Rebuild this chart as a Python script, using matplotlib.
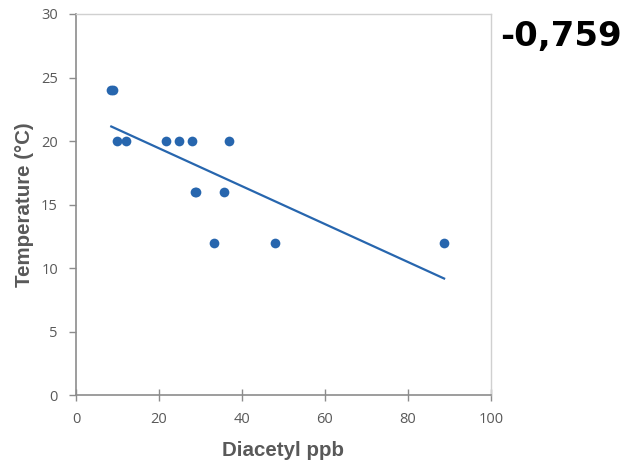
import numpy as np
from matplotlib import pyplot as plt

# Diacetyl (ppb) vs temperature (°C)
diacetyl = [8.5, 8.9, 9.8, 12.0, 21.8, 24.8, 27.9, 36.9, 28.6, 29.0, 35.7, 33.3, 47.9, 88.7]
temperature = [24, 24, 20, 20, 20, 20, 20, 20, 16, 16, 16, 12, 12, 12]
correlation_label = "-0,759"

x_ticks = [0, 20, 40, 60, 80, 100]
y_ticks = [0, 5, 10, 15, 20, 25, 30]

BLUE = "#2766ae"
GRAY_TXT = "#595959"

fig = plt.figure(figsize=(6.27, 4.62), dpi=100)
ax = fig.add_axes([0.1212, 0.145, 0.6619, 0.8247])

ax.plot(diacetyl, temperature, "o", color=BLUE, markersize=7, markeredgewidth=0)

# linear trendline over the data range
slope, intercept = np.polyfit(diacetyl, temperature, 1)
xs = np.array([min(diacetyl), max(diacetyl)])
ax.plot(xs, slope * xs + intercept, "-", color=BLUE, linewidth=1.6)

ax.set_xlim(0, 100)
ax.set_ylim(0, 30)
ax.set_xticks(x_ticks)
ax.set_yticks(y_ticks)

for name in ("top", "right"):
    ax.spines[name].set_color("#d0d0d0")
    ax.spines[name].set_linewidth(1.0)
for name in ("left", "bottom"):
    ax.spines[name].set_color("#8c8c8c")
    ax.spines[name].set_linewidth(1.2)

ax.tick_params(axis="x", direction="inout", length=8, width=1.0, color="#8c8c8c",
               labelsize=10.5, labelcolor=GRAY_TXT, pad=8)
ax.tick_params(axis="y", direction="out", length=5, width=1.0, color="#8c8c8c",
               labelsize=10.5, labelcolor=GRAY_TXT, pad=8)
for lbl in ax.get_xticklabels() + ax.get_yticklabels():
    lbl.set_family("Open Sans")

ax.set_xlabel("Diacetyl ppb", fontsize=14.8, fontweight="bold", color=GRAY_TXT,
              family="Liberation Sans", labelpad=10)
ax.set_ylabel("Temperature (°C)", fontsize=14.8, fontweight="bold", color=GRAY_TXT,
              family="Liberation Sans", labelpad=5)

fig.text(0.798, 0.9004, correlation_label, fontsize=24.5, fontweight="bold",
         family="DejaVu Sans", color="black", ha="left", va="baseline")

fig.savefig("out.png", dpi=100)
